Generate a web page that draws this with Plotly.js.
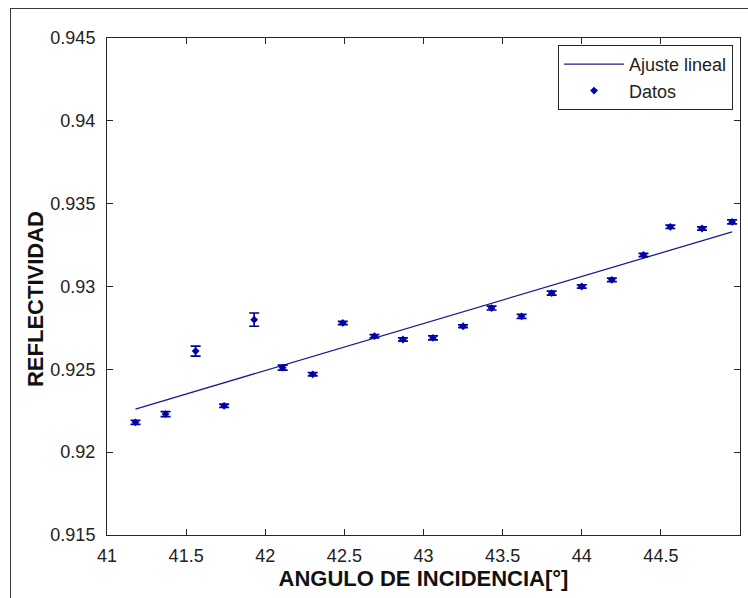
<!DOCTYPE html>
<html>
<head>
<meta charset="utf-8">
<script src="https://cdn.plot.ly/plotly-3.0.1.min.js"></script>
<style>
  html, body { margin: 0; padding: 0; background: #ffffff; overflow: hidden; }
  #wrap { position: relative; width: 748px; height: 598px; overflow: hidden; }
  #chart { position: absolute; left: 0; top: 0; width: 748px; height: 598px; }
  /* thin figure frame */
  #frame { position: absolute; left: 10px; top: 8px; width: 760px; height: 620px;
           border: 1px solid #3a3a3a; pointer-events: none; z-index: 5; }
</style>
</head>
<body>
<div id="wrap">
  <div id="chart"></div>
  <div id="frame"></div>
</div>
<script>
// Measured reflectivity vs. angle of incidence
const angle = [41.18, 41.37, 41.56, 41.74, 41.93, 42.11, 42.30, 42.49, 42.69, 42.87, 43.06,
               43.25, 43.43, 43.62, 43.81, 44.00, 44.19, 44.39, 44.56, 44.76, 44.95];
const reflectivity = [0.9218, 0.9223, 0.9261, 0.9228, 0.9280, 0.9251, 0.9247, 0.9278, 0.9270, 0.9268, 0.9269,
                      0.9276, 0.9287, 0.9282, 0.9296, 0.9300, 0.9304, 0.9319, 0.9336, 0.9335, 0.9339];
const reflectivityErr = [0.00012, 0.00015, 0.00030, 0.00010, 0.00040, 0.00015, 0.00010, 0.00010, 0.00010, 0.00010, 0.00012,
                         0.00008, 0.00012, 0.00012, 0.00012, 0.00010, 0.00010, 0.00010, 0.00010, 0.00010, 0.00012];

// Linear fit endpoints
const fitAngle = [41.18, 44.95];
const fitReflectivity = [0.9226, 0.9333];

// Axis ticks
const xTicks = [41, 41.5, 42, 42.5, 43, 43.5, 44, 44.5, 45];
const yTicks = [0.915, 0.92, 0.925, 0.93, 0.935, 0.94, 0.945];

const FONT = 'Liberation Sans, Arial, Helvetica, sans-serif';

const traces = [
  {
    x: fitAngle, y: fitReflectivity,
    type: 'scatter', mode: 'lines', name: 'Ajuste lineal',
    line: { color: '#1c1c8a', width: 1.3 }
  },
  {
    x: angle, y: reflectivity,
    type: 'scatter', mode: 'markers', name: 'Datos',
    marker: { symbol: 'diamond', size: 6, color: '#0000a8' },
    error_y: { type: 'data', array: reflectivityErr, visible: true,
               color: '#00009a', thickness: 1.7, width: 5 }
  }
];

const axisCommon = {
  showline: true, linecolor: '#262626', linewidth: 1,
  mirror: 'allticks', ticks: 'inside', ticklen: 6, tickwidth: 1, tickcolor: '#262626',
  showgrid: false, zeroline: false,
  tickfont: { family: FONT, size: 18, color: '#222222' }
};

const layout = {
  width: 748, height: 598,
  margin: { l: 107, r: 8, t: 38, b: 63 },
  paper_bgcolor: '#ffffff', plot_bgcolor: '#ffffff',
  showlegend: true,
  legend: {
    x: 0.989, y: 0.986, xanchor: 'right', yanchor: 'top',
    bgcolor: '#ffffff', bordercolor: '#262626', borderwidth: 1,
    font: { family: FONT, size: 18, color: '#222222' },
    itemwidth: 60
  },
  xaxis: Object.assign({}, axisCommon, {
    range: [41, 45], tickvals: xTicks,
    ticktext: xTicks.map(String),
    ticklabelstandoff: 4,
    title: { text: 'ANGULO DE INCIDENCIA[°]', standoff: 5,
             font: { family: FONT, size: 22, color: '#111111', weight: 'bold' } }
  }),
  yaxis: Object.assign({}, axisCommon, {
    range: [0.915, 0.945], tickvals: yTicks,
    ticktext: yTicks.map(String),
    ticklabelstandoff: 7
  }),
  annotations: [{
    // y-axis label, sitting a little below the vertical centre of the axes
    text: 'REFLECTIVIDAD', textangle: -90, showarrow: false,
    xref: 'paper', yref: 'paper', x: -0.112, y: 0.475,
    xanchor: 'center', yanchor: 'middle',
    font: { family: FONT, size: 22, color: '#111111', weight: 'bold' }
  }]
};

Plotly.newPlot('chart', traces, layout, { staticPlot: true, displayModeBar: false });
</script>
</body>
</html>
